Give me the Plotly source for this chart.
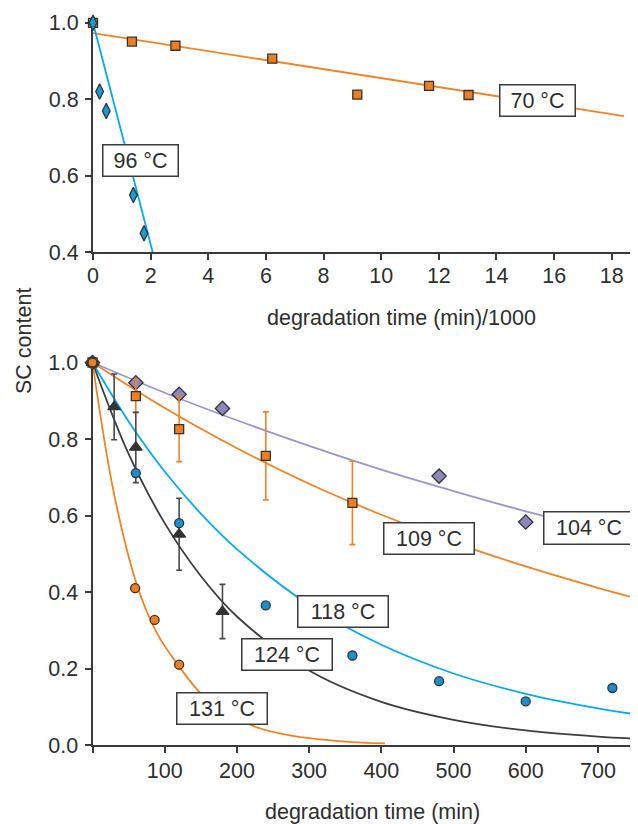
import plotly.graph_objects as go

# ---------------- data: top panel (time in min/1000) ----------------
t70 = [0, 1.35, 2.86, 6.22, 9.17, 11.66, 13.03]
y70 = [1.0, 0.951, 0.94, 0.906, 0.812, 0.835, 0.811]
t70_fit = [0, 18.42]
y70_fit = [0.973, 0.756]

t96 = [0, 0.23, 0.46, 1.40, 1.77]
y96 = [1.0, 0.82, 0.769, 0.549, 0.449]
t96_fit = [0, 2.07]
y96_fit = [1.0, 0.40]

top_xticks = [0, 2, 4, 6, 8, 10, 12, 14, 16, 18]
top_yticks = [0.4, 0.6, 0.8, 1.0]

# ---------------- data: bottom panel (time in min) ----------------
t104 = [0, 60, 120, 180, 480, 600]
y104 = [1.0, 0.947, 0.917, 0.880, 0.703, 0.583]
t104_fit = [0, 100, 200, 300, 400, 500, 600, 700, 760]
y104_fit = [1.0, 0.921, 0.849, 0.782, 0.720, 0.664, 0.611, 0.563, 0.536]

t109 = [0, 60, 120, 240, 360]
y109 = [1.0, 0.912, 0.826, 0.756, 0.633]
e109 = [0, 0.043, 0.085, 0.115, 0.109]
t109_fit = [0, 100, 200, 300, 400, 500, 600, 700, 760]
y109_fit = [1.0, 0.881, 0.776, 0.683, 0.602, 0.530, 0.467, 0.411, 0.380]

t118 = [0, 60, 120, 240, 360, 480, 600, 720]
y118 = [1.0, 0.711, 0.580, 0.365, 0.234, 0.167, 0.114, 0.149]
t118_fit = [0, 50, 100, 150, 200, 300, 400, 500, 600, 700, 760]
y118_fit = [1.0, 0.846, 0.715, 0.605, 0.512, 0.366, 0.262, 0.187, 0.134, 0.096, 0.078]

t124 = [0, 30, 60, 120, 180]
y124 = [1.0, 0.884, 0.778, 0.551, 0.349]
e124 = [0, 0.086, 0.092, 0.094, 0.071]
t124_fit = [0, 50, 100, 150, 200, 300, 400, 500, 600, 700, 760]
y124_fit = [1.0, 0.761, 0.580, 0.442, 0.336, 0.195, 0.113, 0.066, 0.038, 0.022, 0.016]

t131 = [0, 59, 86, 120]
y131 = [1.0, 0.410, 0.327, 0.210]
t131_fit = [0, 30, 63, 90, 120, 150, 180, 222, 260, 300, 350, 405]
y131_fit = [1.0, 0.655, 0.41, 0.29, 0.205, 0.135, 0.093, 0.05, 0.03, 0.018, 0.009, 0.004]

bot_xticks = [0, 100, 200, 300, 400, 500, 600, 700]
bot_xlabels = ["", "100", "200", "300", "400", "500", "600", "700"]
bot_yticks = [0.0, 0.2, 0.4, 0.6, 0.8, 1.0]

labels = ["96 °C", "70 °C", "104 °C", "109 °C", "118 °C", "124 °C", "131 °C"]

# ---------------- style ----------------
OFF = 8                      # default page margin of the html body
W, H = 638 - OFF, 824 - OFF  # figure size so that it fills the window
FONT = "Liberation Sans, Arial, sans-serif"
TXT = "#2e2e2e"
AX = "#3a3a3a"
ORANGE = "#f5821f"
ORANGE_M = "#f07d1e"
BLUE_L = "#00aeef"
BLUE_M = "#1a8fd0"
BLUE_D = "#1b9ad8"
PURPLE_L = "#9b96cc"
PURPLE_M = "#8c87c1"
DARK = "#333333"
DARK_L = "#3d3d3d"
EDGE = dict(color="#333333", width=1.3)
FS = 21.5

fig = go.Figure()

def line(x, y, color, xa, ya, shape="linear"):
    fig.add_trace(go.Scatter(x=x, y=y, mode="lines", xaxis=xa, yaxis=ya,
                             line=dict(color=color, width=1.8, shape=shape),
                             hoverinfo="skip", showlegend=False))

def marks(x, y, sym, size, fill, xa, ya, err=None, ecolor=None):
    kw = {}
    if err is not None:
        kw["error_y"] = dict(type="data", array=err, visible=True,
                             color=ecolor, thickness=1.6, width=3)
    fig.add_trace(go.Scatter(x=x, y=y, mode="markers", xaxis=xa, yaxis=ya,
                             marker=dict(symbol=sym, size=size, color=fill, line=EDGE),
                             cliponaxis=False, showlegend=False, **kw))

# top panel
line(t70_fit, y70_fit, ORANGE, "x", "y")
line(t96_fit, y96_fit, BLUE_L, "x", "y")
marks(t70, y70, "square", 9, ORANGE_M, "x", "y")
marks(t96, y96, "diamond-tall", 11, BLUE_D, "x", "y")

# bottom panel
line(t104_fit, y104_fit, PURPLE_L, "x2", "y2", "spline")
line(t109_fit, y109_fit, ORANGE, "x2", "y2", "spline")
line(t118_fit, y118_fit, BLUE_L, "x2", "y2", "spline")
line(t124_fit, y124_fit, DARK_L, "x2", "y2", "spline")
line(t131_fit, y131_fit, ORANGE, "x2", "y2", "spline")
marks(t104, y104, "diamond", 11, PURPLE_M, "x2", "y2")
marks(t109, y109, "square", 9, ORANGE_M, "x2", "y2", e109, ORANGE)
marks(t124, y124, "triangle-up", 11, DARK, "x2", "y2", e124, "#4a4a4a")
marks(t118, y118, "circle", 9, BLUE_M, "x2", "y2")
marks(t131, y131, "circle", 9, ORANGE_M, "x2", "y2")

def px_x(p):
    return (p - OFF) / W

def px_y(p):
    return 1 - (p - OFF) / H

axis_common = dict(showline=True, linecolor=AX, linewidth=2, ticks="outside",
                   ticklen=6, tickwidth=2, tickcolor=AX, showgrid=False,
                   zeroline=False, layer="below traces", automargin=False,
                   tickfont=dict(family=FONT, size=FS, color=TXT))

fig.update_layout(
    width=W, height=H, margin=dict(l=0, r=0, t=0, b=0),
    paper_bgcolor="white", plot_bgcolor="white", showlegend=False,
    xaxis=dict(domain=[px_x(93), 1], range=[0, 18.91], tickvals=top_xticks,
               anchor="y", ticklabelstandoff=-3, **axis_common),
    yaxis=dict(domain=[px_y(252), px_y(19)], range=[0.4, 1.01], tickvals=top_yticks,
               tickformat=".1f", anchor="x", ticklabelstandoff=2, **axis_common),
    xaxis2=dict(domain=[px_x(92.5), 1], range=[0, 755.5], tickvals=bot_xticks,
                ticktext=bot_xlabels, anchor="y2", ticklabelstandoff=-1, **axis_common),
    yaxis2=dict(domain=[px_y(745), px_y(358.7)], range=[0, 1.01], tickvals=bot_yticks,
                tickformat=".1f", anchor="x2", ticklabelstandoff=2, **axis_common),
)

# axis titles
ann_font = dict(family=FONT, size=FS, color=TXT)
fig.add_annotation(text="degradation time (min)/1000", xref="paper", yref="paper",
                   x=px_x(401), y=px_y(318), showarrow=False, font=ann_font,
                   xanchor="center", yanchor="middle")
fig.add_annotation(text="degradation time (min)", xref="paper", yref="paper",
                   x=px_x(372.5), y=px_y(811.7), showarrow=False, font=ann_font,
                   xanchor="center", yanchor="middle")
fig.add_annotation(text="SC content", xref="paper", yref="paper",
                   x=px_x(24), y=px_y(341), showarrow=False, font=ann_font,
                   textangle=-90, xanchor="center", yanchor="middle")

# boxed temperature labels (center x, center y, width, height in px)
boxes = [(140.3, 160.3, 77, 33), (537.7, 100.7, 77, 33), (589, 527.8, 92, 34),
         (429.3, 538.3, 92, 33), (342.5, 611.7, 92, 33), (286.7, 654.3, 92, 33),
         (221.8, 708.8, 92, 33)]
for txt, (cx, cy, bw, bh) in zip(labels, boxes):
    fig.add_annotation(text=txt, xref="paper", yref="paper", x=px_x(cx), y=px_y(cy),
                       showarrow=False, font=ann_font, xanchor="center", yanchor="middle",
                       bgcolor="white", bordercolor="#3a3a3a", borderwidth=1.5,
                       borderpad=0, width=bw - 3, height=bh - 3, align="center")

fig.write_html("out.html")
